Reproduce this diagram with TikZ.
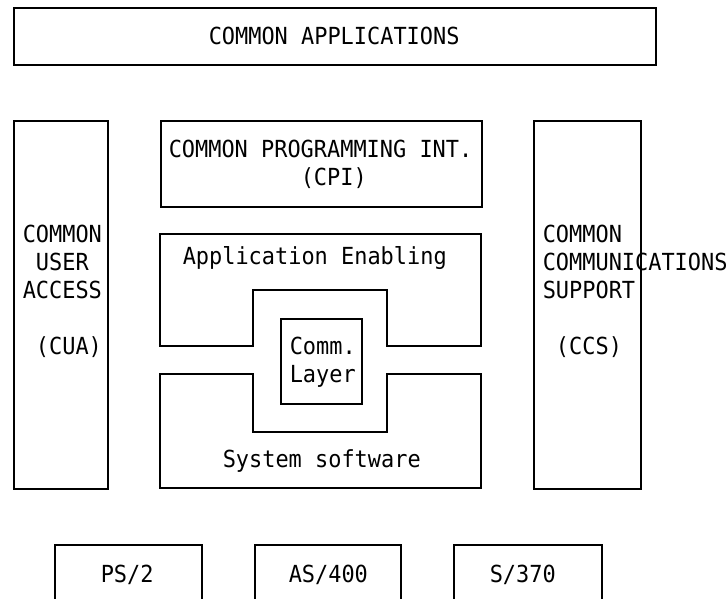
\documentclass[tikz,border=0pt]{standalone}
\usepackage{fontspec}
\setmonofont[FakeStretch=0.933]{DejaVu Sans Mono}
\usetikzlibrary{positioning}

\begin{document}
\begin{tikzpicture}[x=1pt,y=-1pt,line width=1.5pt]
  \tikzstyle{every node}=[font=\ttfamily\fontsize{23.5}{28}\selectfont,inner sep=0pt]
  \tikzstyle{blk}=[rectangle,draw,line width=1.5pt,anchor=north west]
  \tikzstyle{txt}=[anchor=base west,align=left]
  \useasboundingbox (0,0) rectangle (728,598);
  % top and side blocks
  \node[blk,minimum width=642pt,minimum height=57pt] (apps) at (13,7) {};
  \node[txt] (appstxt) at (208,44) {COMMON APPLICATIONS};
  \node[blk,minimum width=94pt,minimum height=368pt] (cua) at (13,120) {};
  \node[txt] (cuatxt) at (22,354) {COMMON\\\hphantom{C}USER\\ACCESS\\[28pt]\hphantom{C}(CUA)};
  \node[blk,minimum width=107pt,minimum height=368pt] (ccs) at (533,120) {};
  \node[txt] (ccstxt) at (542,354) {COMMON\\COMMUNICATIONS\\SUPPORT\\[28pt]\hphantom{C}(CCS)};
  \node[blk,minimum width=321pt,minimum height=86pt] (cpi) at (160,120) {};
  \node[txt] (cpitxt) at (168,185) {COMMON PROGRAMMING INT.\\\hphantom{COMMON PRO}(CPI)};
  % middle layers
  \draw (160,234) -- (481,234) -- (481,346) -- (387,346) -- (387,290)
    -- (253,290) -- (253,346) -- (160,346) -- cycle;
  \node[txt] (appentxt) at (182,264) {Application Enabling};
  \node[blk,minimum width=81pt,minimum height=85pt] (comm) at (280,318) {};
  \node[txt] (commtxt) at (289,382) {Comm.\\Layer};
  \draw (160,374) -- (253,374) -- (253,432) -- (387,432) -- (387,374)
    -- (481,374) -- (481,488) -- (160,488) -- cycle;
  \node[txt] (systxt) at (222,467) {System software};
  % hardware
  \node[blk,minimum width=147pt,minimum height=62pt] (ps2) at (54,544) {};
  \node[txt] (ps2txt) at (100,582) {PS/2};
  \node[blk,minimum width=146pt,minimum height=62pt] (as400) at (254,544) {};
  \node[txt] (as400txt) at (288,582) {AS/400};
  \node[blk,minimum width=148pt,minimum height=62pt] (s370) at (453,544) {};
  \node[txt] (s370txt) at (489,582) {S/370};
\end{tikzpicture}
\end{document}
